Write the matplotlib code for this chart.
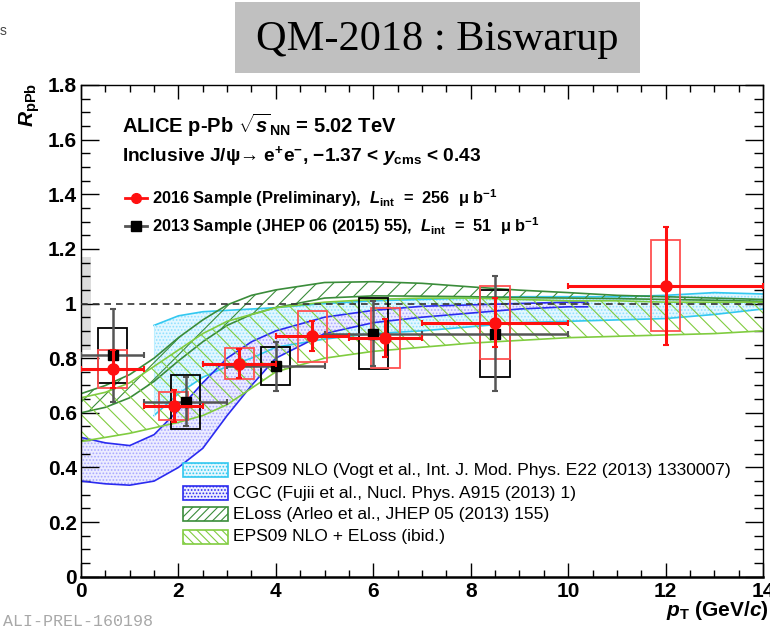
import matplotlib.pyplot as plt
from matplotlib.patches import Rectangle
from matplotlib.lines import Line2D
from matplotlib.ticker import MultipleLocator, FormatStrFormatter

plt.rcParams['font.family'] = ['Liberation Sans', 'DejaVu Sans']
plt.rcParams['font.weight'] = 'bold'
plt.rcParams['mathtext.fontset'] = 'custom'
plt.rcParams['mathtext.rm'] = 'Liberation Sans:bold'
plt.rcParams['mathtext.it'] = 'Liberation Sans:italic:bold'
plt.rcParams['mathtext.bf'] = 'Liberation Sans:bold'
plt.rcParams['hatch.linewidth'] = 0.8

# 2016 sample (preliminary)
pt16 = [0.65, 1.9, 3.25, 4.75, 6.25, 8.5, 12.0]
pt16_lo = [0.0, 1.3, 2.5, 4.0, 5.5, 7.0, 10.0]
pt16_hi = [1.3, 2.5, 4.0, 5.5, 7.0, 10.0, 14.0]
r16 = [0.76, 0.625, 0.78, 0.88, 0.875, 0.93, 1.065]
stat16 = [0.07, 0.058, 0.053, 0.055, 0.07, 0.09, 0.215]
syst16 = [0.07, 0.05, 0.057, 0.093, 0.11, 0.133, 0.167]

# 2013 sample (JHEP 06 (2015) 55)
pt13 = [0.65, 2.15, 4.0, 6.0, 8.5]
pt13_lo = [0.0, 1.3, 3.0, 5.0, 7.0]
pt13_hi = [1.3, 3.0, 5.0, 7.0, 10.0]
r13 = [0.81, 0.64, 0.77, 0.89, 0.89]
stat13 = [0.17, 0.09, 0.09, 0.12, 0.21]
syst13 = [0.10, 0.10, 0.07, 0.13, 0.16]

# model bands
eps_x = [1.5, 2, 2.5, 3, 3.5, 4, 5, 6, 7, 8, 9, 10, 11, 12, 13, 14]
eps_hi = [0.92, 0.955, 0.97, 0.975, 0.98, 0.985, 1.0, 1.01, 1.015, 1.02, 1.025, 1.025, 1.025, 1.03, 1.04, 1.035]
eps_lo = [0.59, 0.67, 0.73, 0.77, 0.80, 0.84, 0.87, 0.89, 0.90, 0.915, 0.93, 0.935, 0.94, 0.945, 0.96, 0.98]

cgc_x = [0, 0.5, 1, 1.5, 2, 2.5, 3, 3.5, 4, 5, 6, 7, 8, 9, 10, 10.4]
cgc_hi = [0.51, 0.49, 0.48, 0.52, 0.61, 0.71, 0.80, 0.86, 0.90, 0.95, 0.975, 0.99, 0.995, 1.0, 1.005, 1.005]
cgc_lo = [0.35, 0.34, 0.335, 0.35, 0.40, 0.47, 0.59, 0.70, 0.80, 0.89, 0.93, 0.95, 0.965, 0.98, 0.988, 0.988]

eloss_x = [0, 0.5, 1, 1.5, 2, 2.5, 3, 3.5, 4, 5, 6, 7, 8, 9, 10, 11, 12, 13, 14]
eloss_hi = [0.67, 0.70, 0.74, 0.80, 0.875, 0.94, 0.995, 1.03, 1.05, 1.077, 1.08, 1.074, 1.061, 1.049, 1.04, 1.03, 1.025, 1.02, 1.015]
eloss_lo = [0.60, 0.62, 0.655, 0.715, 0.79, 0.86, 0.92, 0.96, 0.985, 1.02, 1.028, 1.027, 1.025, 1.022, 1.02, 1.018, 1.015, 1.012, 1.008]

epsel_hi = [0.655, 0.675, 0.71, 0.77, 0.83, 0.89, 0.935, 0.96, 0.985, 1.005, 1.015, 1.02, 1.02, 1.015, 1.01, 1.01, 1.005, 1.005, 1.005]
epsel_lo = [0.495, 0.51, 0.525, 0.545, 0.565, 0.59, 0.63, 0.69, 0.75, 0.80, 0.825, 0.84, 0.855, 0.865, 0.875, 0.88, 0.885, 0.89, 0.90]

model_names = ['EPS09 NLO (Vogt et al., Int. J. Mod. Phys. E22 (2013) 1330007)',
               'CGC (Fujii et al., Nucl. Phys. A915 (2013) 1)',
               'ELoss (Arleo et al., JHEP 05 (2013) 155)',
               'EPS09 NLO + ELoss (ibid.)']

global_unc = 0.17

c_cyan = '#33c8f0'
c_blue = '#2b2bf0'
c_dgreen = '#3a8c3a'
c_lgreen = '#80cc40'
c_red = '#ff1010'

fig = plt.figure(figsize=(7.7, 6.3), dpi=100)
ax = fig.add_axes([81 / 770, 1 - 576.7 / 630, 682 / 770, 491.7 / 630])

# bands
ax.fill_between(eps_x, eps_lo, eps_hi, facecolor='#e3f7ff', edgecolor='#8fe0ff', hatch='.....', linewidth=0, zorder=1)
ax.plot(eps_x, eps_hi, color=c_cyan, lw=1.2, zorder=2)
ax.plot(eps_x, eps_lo, color=c_cyan, lw=1.2, zorder=2)
ax.plot([eps_x[0], eps_x[0]], [eps_lo[0], eps_hi[0]], color='#bdefff', lw=0.8, zorder=2)

ax.fill_between(cgc_x, cgc_lo, cgc_hi, facecolor='#ececff', edgecolor='#a8a8ff', hatch='.....', linewidth=0, zorder=1)
ax.plot(cgc_x, cgc_hi, color=c_blue, lw=1.2, zorder=2)
ax.plot(cgc_x, cgc_lo, color=c_blue, lw=1.2, zorder=2)

ax.fill_between(eloss_x, eloss_lo, eloss_hi, facecolor='none', edgecolor=c_dgreen, hatch='//', linewidth=0, zorder=2)
ax.plot(eloss_x, eloss_hi, color=c_dgreen, lw=1.2, zorder=2)
ax.plot(eloss_x, eloss_lo, color=c_dgreen, lw=1.2, zorder=2)

ax.fill_between(eloss_x, epsel_lo, epsel_hi, facecolor='none', edgecolor=c_lgreen, hatch='\\\\', linewidth=0, zorder=2)
ax.plot(eloss_x, epsel_hi, color=c_lgreen, lw=1.2, zorder=2)
ax.plot(eloss_x, epsel_lo, color=c_lgreen, lw=1.2, zorder=2)

# global uncertainty box and unity line
ax.add_patch(Rectangle((0, 1 - global_unc), 0.2, 2 * global_unc, facecolor='#dddddd', edgecolor='none', zorder=1))
ax.axhline(1.0, color='#333333', lw=1.2, ls=(0, (4, 3)), zorder=3)

# 2013 data
for x, y, s in zip(pt13, r13, syst13):
    ax.add_patch(Rectangle((x - 0.3, y - s), 0.6, 2 * s, fill=False, edgecolor='black', lw=1.3, zorder=4))
ax.errorbar(pt13, r13, yerr=stat13,
            xerr=[[p - l for p, l in zip(pt13, pt13_lo)], [h - p for p, h in zip(pt13, pt13_hi)]],
            fmt='none', ecolor='#555555', elinewidth=1.8, capsize=2.5, capthick=1.5, zorder=5)
ax.plot(pt13, r13, 's', color='black', ms=7.5, zorder=6)

# 2016 data
for x, y, s in zip(pt16, r16, syst16):
    ax.add_patch(Rectangle((x - 0.3, y - s), 0.6, 2 * s, fill=False, edgecolor='#ff5050', lw=1.3, zorder=4))
ax.errorbar(pt16, r16, yerr=stat16,
            xerr=[[p - l for p, l in zip(pt16, pt16_lo)], [h - p for p, h in zip(pt16, pt16_hi)]],
            fmt='none', ecolor=c_red, elinewidth=2.2, capsize=2.5, capthick=1.5, zorder=7)
ax.plot(pt16, r16, 'o', color=c_red, ms=8, zorder=8)

# axes
ax.set_xlim(0, 14)
ax.set_ylim(0, 1.8)
ax.xaxis.set_major_locator(MultipleLocator(2))
ax.xaxis.set_minor_locator(MultipleLocator(0.5))
ax.yaxis.set_major_locator(MultipleLocator(0.2))
ax.yaxis.set_minor_locator(MultipleLocator(0.05))
ax.yaxis.set_major_formatter(FormatStrFormatter('%g'))
ax.tick_params(which='both', direction='in', top=True, right=True, labelsize=15, width=1)
ax.tick_params(axis='y', which='major', length=13, pad=3)
ax.tick_params(axis='y', which='minor', length=6.5)
ax.tick_params(axis='x', which='major', length=10, pad=4)
ax.tick_params(axis='x', which='minor', length=5)
for sp in ax.spines.values():
    sp.set_linewidth(1.0)
ax.spines['bottom'].set_linewidth(1.8)

ax.text(-0.075, 1.004, r'$R_{\rm pPb}$', transform=ax.transAxes, rotation=90,
        ha='center', va='top', fontsize=15)
ax.text(1.008, -0.069, r'$p_{\rm T}$ (GeV/$c$)', transform=ax.transAxes,
        ha='right', va='center', fontsize=15)

# header
ax.text(0.060, 0.918, r'ALICE p-Pb $\sqrt{s}_{\rm NN}$ = 5.02 TeV', transform=ax.transAxes,
        ha='left', va='center', fontsize=14.5)
ax.text(0.060, 0.855, 'Inclusive J/ψ→ e$^{+}$e$^{-}$, $-$1.37 < $y_{\\rm cms}$ < 0.43',
        transform=ax.transAxes, ha='left', va='center', fontsize=13.8)

# data legend
leg_y = [0.770, 0.713]
ax.add_line(Line2D([0.0645, 0.0968], [leg_y[0]] * 2, color=c_red, lw=2, transform=ax.transAxes, zorder=9))
ax.add_line(Line2D([0.0806], [leg_y[0]], marker='o', color=c_red, ms=7, transform=ax.transAxes, zorder=9))
ax.add_line(Line2D([0.0645, 0.0968], [leg_y[1]] * 2, color='#555555', lw=2, transform=ax.transAxes, zorder=9))
ax.add_line(Line2D([0.0806], [leg_y[1]], marker='s', color='black', ms=6.5, transform=ax.transAxes, zorder=9))
ax.text(0.104, leg_y[0], r'2016 Sample (Preliminary),  $L_{\rm int}$  =  256  μ b$^{-1}$',
        transform=ax.transAxes, ha='left', va='center', fontsize=11.8)
ax.text(0.104, leg_y[1], r'2013 Sample (JHEP 06 (2015) 55),  $L_{\rm int}$  =  51  μ b$^{-1}$',
        transform=ax.transAxes, ha='left', va='center', fontsize=11.8)

# model legend
box_style = [dict(facecolor='#e3f7ff', edgecolor=c_cyan, hatch='.....'),
             dict(facecolor='#ececff', edgecolor=c_blue, hatch='.....'),
             dict(facecolor='white', edgecolor=c_dgreen, hatch='////'),
             dict(facecolor='white', edgecolor=c_lgreen, hatch='\\\\\\\\')]
row_y = [0.217, 0.170, 0.127, 0.081]
for name, yy, st in zip(model_names, row_y, box_style):
    ax.add_patch(Rectangle((0.1496, yy - 0.0143), 0.066, 0.0286, transform=ax.transAxes,
                           lw=1.2, zorder=9, **st))
    ax.text(0.223, yy, name, transform=ax.transAxes, ha='left', va='center',
            fontsize=12.6, fontweight='normal', zorder=9)

# title banner and labels outside the frame
fig.patches.append(Rectangle((235 / 770, 1 - 73 / 630), 405 / 770, 71 / 630,
                             transform=fig.transFigure, facecolor='#c0c0c0', edgecolor='none'))
fig.text(437 / 770, 1 - 40 / 630, 'QM-2018 : Biswarup', ha='center', va='center',
         family='Liberation Serif', fontweight='normal', fontsize=30.5)
fig.text(0.0, 1 - 31 / 630, 's', ha='left', va='center', fontsize=10, color='#444444', fontweight='normal')
fig.text(3 / 770, 1 - 622 / 630, 'ALI-PREL-160198', ha='left', va='center',
         family='Liberation Mono', fontweight='normal', fontsize=12, color='#a8a8a8')

fig.savefig('out.png', dpi=100)
